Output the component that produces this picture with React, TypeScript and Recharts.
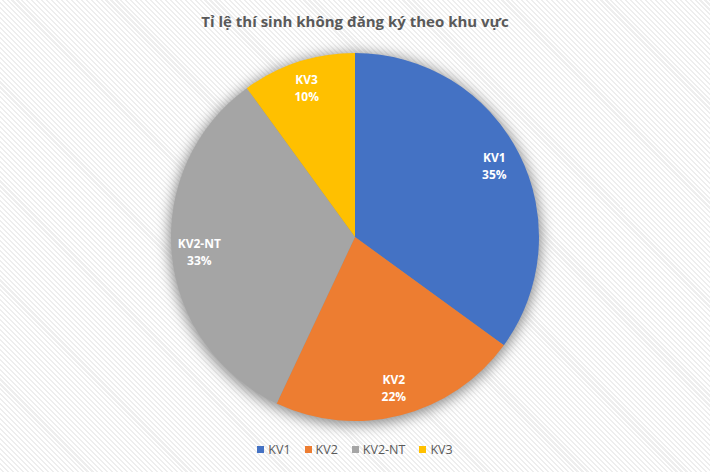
import React from 'react';
import { PieChart, Pie, Cell } from 'recharts';

// Dữ liệu
const regions = ['KV1', 'KV2', 'KV2-NT', 'KV3'];
const shares = [35, 22, 33, 10];
const colors = ['#4472C4', '#ED7D31', '#A5A5A5', '#FFC000'];

const TITLE = 'Tỉ lệ thí sinh không đăng ký theo khu vực';
const FONT = '"Open Sans", "Noto Sans", sans-serif';
const RAD = Math.PI / 180;

const data = regions.map((name, i) => ({ name, value: shares[i] }));
const shadowData = [{ name: 'shadow', value: 1 }];

const renderLabel = (props: any) => {
  const { cx, cy, midAngle, outerRadius, index } = props;
  const r = outerRadius * 0.85;
  const x = cx + r * Math.cos(-midAngle * RAD);
  const y = cy + r * Math.sin(-midAngle * RAD);
  return (
    <text
      x={x}
      y={y}
      fill="#ffffff"
      textAnchor="middle"
      fontFamily={FONT}
      fontSize={12}
      fontWeight={700}
    >
      <tspan x={x} dy={-4}>{regions[index]}</tspan>
      <tspan x={x} dy={17}>{shares[index]}%</tspan>
    </text>
  );
};

export default function App() {
  return (
    <div
      style={{
        position: 'absolute',
        left: 0,
        top: 0,
        width: 710,
        height: 472,
        overflow: 'hidden',
        fontFamily: FONT,
        background:
          'repeating-linear-gradient(45deg, #ffffff 0px, #ffffff 2px, #eeeeee 2px, #eeeeee 3.5px)',
      }}
    >
      <style>{`.pie-shadow { filter: blur(5px); }`}</style>
      <div
        style={{
          position: 'absolute',
          left: 0,
          top: 11,
          width: 710,
          textAlign: 'center',
          fontSize: 15,
          fontWeight: 700,
          color: '#595959',
        }}
      >
        {TITLE}
      </div>

      <div style={{ position: 'absolute', left: 0, top: 0 }}>
        <PieChart width={710} height={472} margin={{ top: 0, right: 0, bottom: 0, left: 0 }}>
          <Pie
            data={shadowData}
            dataKey="value"
            cx={355}
            cy={239}
            outerRadius={186}
            startAngle={90}
            endAngle={-270}
            fill="#8c8c8c"
            stroke="none"
            className="pie-shadow"
            isAnimationActive={false}
            label={false}
            labelLine={false}
          />
          <Pie
            data={data}
            dataKey="value"
            nameKey="name"
            cx={355}
            cy={237}
            outerRadius={184}
            startAngle={90}
            endAngle={-270}
            stroke="none"
            isAnimationActive={false}
            label={renderLabel}
            labelLine={false}
          >
            {data.map((d, i) => (
              <Cell key={d.name} fill={colors[i]} />
            ))}
          </Pie>
        </PieChart>
      </div>

      <div
        style={{
          position: 'absolute',
          left: 0,
          top: 441,
          width: 710,
          display: 'flex',
          justifyContent: 'center',
          gap: 14,
          fontSize: 12.5,
          color: '#595959',
        }}
      >
        {regions.map((name, i) => (
          <div key={name} style={{ display: 'flex', alignItems: 'center', gap: 4 }}>
            <span style={{ width: 7, height: 7, background: colors[i], display: 'inline-block' }} />
            <span>{name}</span>
          </div>
        ))}
      </div>
    </div>
  );
}
